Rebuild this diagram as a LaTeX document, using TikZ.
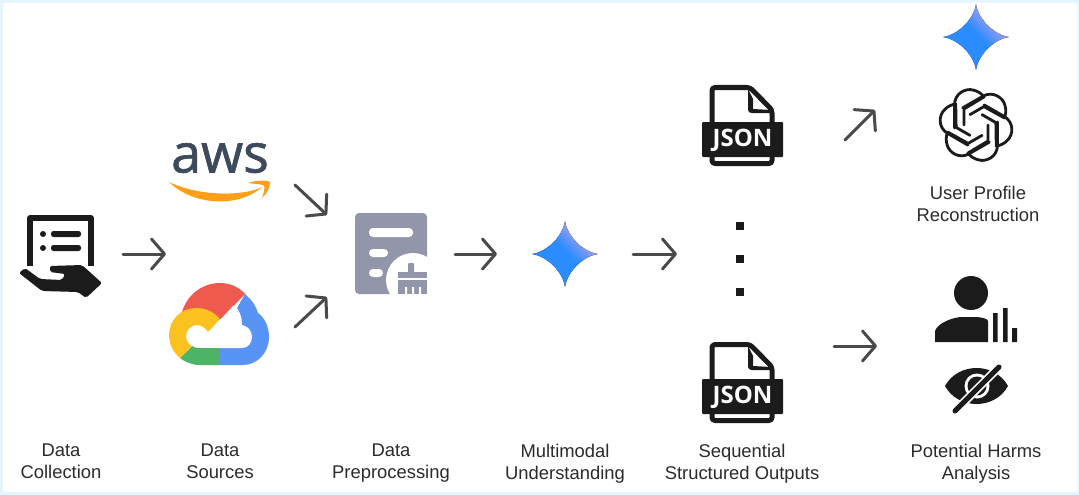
\documentclass[tikz,border=0pt]{standalone}
\usetikzlibrary{arrows.meta,positioning}
\usepackage{fontspec}
\setmainfont{Liberation Sans}
\newfontfamily\logofont{Open Sans}
\newfontfamily\awsfont[FakeBold=1.2]{Open Sans}
\definecolor{edgeblue}{HTML}{E6F5FC}
\definecolor{inkblack}{HTML}{1B1B1B}
\definecolor{flowgray}{HTML}{4A4A4A}
\definecolor{labelgray}{HTML}{2B2B2B}
\definecolor{gemblue}{HTML}{2B8CFF}
\definecolor{gempurple}{HTML}{BFA3EC}
\definecolor{awsslate}{HTML}{3D4A5C}
\definecolor{awsorange}{HTML}{FF9F18}
\definecolor{gred}{HTML}{EE5A4D}
\definecolor{gblue}{HTML}{5794F5}
\definecolor{gyellow}{HTML}{FBC21F}
\definecolor{ggreen}{HTML}{4DB367}
\definecolor{prepgray}{HTML}{9396AA}
\pgfdeclarehorizontalshading{gemfade}{100bp}{color(0bp)=(gemblue); color(52bp)=(gemblue); color(72bp)=(gempurple); color(100bp)=(gempurple)}

\tikzset{
  slot/.style 2 args = {minimum width = #1pt, minimum height = #2pt, inner sep = 0pt, outer sep = 0pt},
  flow/.style  = {draw = flowgray, line width = 3pt, line cap = round, -{Straight Barb[length = 13pt, width = 30pt, round]}},
  label/.style = {text = labelgray, font = \fontsize{18.4}{22}\selectfont, align = center, anchor = north, inner sep = 0pt, execute at begin node = \strut},
  gemstar/.pic = {
    \fill[shading = gemfade, shading angle = 45] (0,-33) .. controls (2,-18) and (18,-2) .. (33,0) .. controls (18,2) and (2,18) .. (0,33)
      .. controls (-2,18) and (-18,2) .. (-33,0) .. controls (-18,-2) and (-2,-18) .. (0,-33) -- cycle;
  },
  jsonfile/.pic = {
    \draw[inkblack, line width = 5pt, line join = round, rounded corners = 3pt] (-29,-37.5) -- (9,-37.5) -- (31,-15) -- (31,38.5) -- (-29,38.5) -- cycle;
    \fill[inkblack] (7,-36) -- (7,-15) .. controls (7,-13) and (9,-12) .. (11,-12) -- (30,-12) -- (30,-15) -- (12,-16) -- (12,-26) -- cycle;
    \fill[inkblack, rounded corners = 1pt] (-39,-3) rectangle (42,32);
    \node[text = white, font = \logofont\fontsize{24}{24}\selectfont\bfseries] (text) at (1.5,15.5) {JSON};
  },
}

\begin{document}
\begin{tikzpicture}[x = 1pt, y = -1pt]
    % frame
    \useasboundingbox (0,0) rectangle (1079,495);
    \fill[edgeblue] (0,0) rectangle (1079,495);
    \fill[white, rounded corners = 2pt] (3,3) rectangle (1077,492);

    % slots the arrows run between
    \node[slot = {126}{60}] (collect) at (60,254) {};
    \node[slot = {108}{60}] (sources) at (220,254) {};
    \node[slot = {150}{54}] (aws) at (220,158) {};
    \node[slot = {150}{20}] (gcloud) at (220,327) {};
    \node[slot = {128}{82}] (prepin) at (391,256) {};
    \node[slot = {128}{60}] (prep) at (391,254) {};
    \node[slot = {136}{66}] (gemini) at (565,254) {};
    \node[slot = {128}{60}] (dots) at (741,254) {};
    \node[slot = {208}{30}] (jsontop) at (741,125) {};
    \node[slot = {186}{74}] (jsonbot) at (741,383) {};
    \node[slot = {202}{40}] (profile) at (976,90) {};
    \node[slot = {198}{20}] (harms) at (976,346) {};

    % data collection icon
    \draw[inkblack, line width = 5.5pt, line join = round] (30,266) -- (30,218) -- (91,218) -- (91,266);
    \fill[inkblack] (43,234) circle (3pt) (43,248) circle (3pt);
    \fill[inkblack, rounded corners = 2.5pt] (51,231) rectangle (81,237) (51,245) rectangle (81,251);
    \fill[inkblack, rounded corners = 2pt] (50,266) -- (82,265) -- (102,283) -- (86,298) -- (78,292) -- (42,291) -- (19,273) -- (25,268) -- (40,279) -- (62,280) -- (65,274) -- (50,272) -- cycle;

    % aws logo
    \node[text = awsslate, font = \awsfont\fontsize{54}{54}\selectfont] (awstext) at (220,158) {aws};
    \fill[awsorange] (169,182) .. controls (195,207) and (240,207) .. (262,187) .. controls (245,196) and (200,197) .. (169,182) -- cycle;
    \fill[awsorange] (248,183) .. controls (256,180) and (267,180) .. (270,182) .. controls (270,187) and (267,194) .. (262,198) .. controls (264,192) and (265,188) .. (264,185.5) .. controls (261,184) and (255,184) .. (248,183) -- cycle;

    % google cloud logo
    \fill[gblue] (245,294) .. controls (252,300) and (256,306) .. (258,313) .. controls (265,318) and (269,327) .. (269,337) .. controls (269,353) and (257,365) .. (243,365) -- (219,365) -- (219,340) -- cycle;
    \fill[gred] (182,312) .. controls (187,295) and (202,283) .. (220,283) .. controls (230,283) and (239,287) .. (245,294) -- (220,320) -- (195,320) -- cycle;
    \fill[white] (186,336) -- (197,325) -- (220,320) -- (234,305) .. controls (240,310) and (242,318) .. (242,325) .. controls (248,326) and (252,331) .. (252,337) .. controls (252,343) and (248,348) .. (242,348) -- (195,348) -- cycle;
    \fill[ggreen] (180,358) -- (192,346) .. controls (194,347) and (196,348) .. (198,348) -- (219,348) -- (219,365) -- (200,365) .. controls (192,365) and (185,362) .. (180,358) -- cycle;
    \fill[gyellow] (220,319) .. controls (214,312) and (206,308) .. (196,308) .. controls (181,308) and (169,320) .. (169,335) .. controls (169,344) and (173,352) .. (180,358) -- (192,346) .. controls (188,344) and (186,340) .. (186,336) .. controls (186,330) and (191,325) .. (197,325) .. controls (201,325) and (206,328) .. (208,332) -- cycle;

    % preprocessing icon
    \fill[prepgray, rounded corners = 4pt] (355,213) rectangle (427,294);
    \fill[white, rounded corners = 4pt] (369,228) rectangle (413,237) (369,249) rectangle (388,257) (369,269) rectangle (383,277);
    \fill[white] (413,280) circle (27pt);
    \fill[prepgray, rounded corners = 1pt] (408,263) rectangle (414,274);
    \fill[prepgray] (398,272) rectangle (427,278);
    \fill[prepgray] (398,280) rectangle (427,294);
    \fill[white] (405,287) rectangle (407,294) (412,287) rectangle (414,294) (419,287) rectangle (421,294);

    % gemini stars
    \pic at (565,254) {gemstar};
    \pic at (976,37) {gemstar};

    % json files and dots
    \pic at (741,125) {jsonfile};
    \pic at (741,382) {jsonfile};
    \foreach \y in {226,259,292} {
        \fill[inkblack] (736,\y-4) rectangle (744,\y+4);
    }

    % knot logo
    \begin{scope}[shift = {(976,125)}]
      \foreach \a in {0,60,...,300} {
        \draw[inkblack, line width = 2.8pt, line join = round, line cap = round, rotate = \a]
          (-21.5,3) -- (-21.5,-20) .. controls (-21.5,-32) and (-10,-37) .. (-3,-35) .. controls (2,-34) and (6,-31) .. (8,-28) -- (-12,-16) -- (-12,0);
      }
    \end{scope}

    % person with bars
    \fill[inkblack] (971,293) circle (17pt);
    \fill[inkblack] (935,342) -- (935,331) .. controls (938,322) and (955,317) .. (962,317) -- (975,317) .. controls (982,317) and (988,319) .. (988,321) -- (988,342) -- cycle;
    \fill[inkblack] (993,313) rectangle (997.5,342) (1003,308) rectangle (1007.5,342) (1012,328) rectangle (1017,342);

    % crossed eye
    \fill[inkblack] (945,386) .. controls (958,362) and (995,362) .. (1008,386) .. controls (995,410) and (958,410) .. (945,386) -- cycle;
    \fill[white] (977,386) circle (12.5pt);
    \fill[inkblack] (977,386) circle (9.5pt);
    \draw[white, line width = 8.5pt] (999,367) -- (955,411);
    \draw[inkblack, line width = 5pt, line cap = round] (999,367) -- (955,411);

    % labels
    \node[label] (lcollect) at (61,443.5) {Data\\Collection};
    \node[label] (lsources) at (220,443.5) {Data\\Sources};
    \node[label] (lprep) at (391,443.5) {Data\\Preprocessing};
    \node[label] (lunder) at (565,443.5) {Multimodal\\Understanding};
    \node[label] (lseq) at (742,443.5) {Sequential\\Structured Outputs};
    \node[label] (lharms) at (976,443.5) {Potential Harms\\Analysis};
    \node[label] (lprofile) at (978,186) {User Profile\\Reconstruction};

    % arrows
    \draw[flow] (collect.east) -- (sources.west);
    \draw[flow] (aws.south east) -- (prepin.north west);
    \draw[flow] (gcloud.east) -- (prepin.south west);
    \draw[flow] (prep.east) -- (gemini.west);
    \draw[flow] (gemini.east) -- (dots.west);
    \draw[flow] (jsontop.south east) -- (profile.south west);
    \draw[flow] (jsonbot.north east) -- (harms.west);
\end{tikzpicture}
\end{document}
